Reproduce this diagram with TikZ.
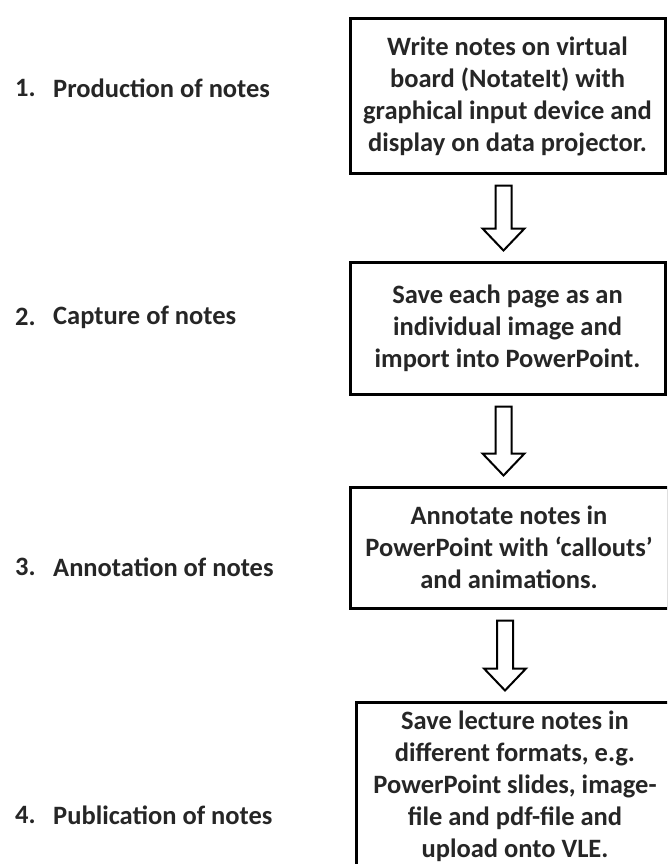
\documentclass[tikz,border=0pt]{standalone}
\usepackage{fontspec}
\setmainfont{Carlito}
\usetikzlibrary{calc}
\tikzset{
  stepbox/.style={draw=black, line width=3pt, fill=white, align=center, inner sep=0pt,
    font=\bfseries\fontsize{26.5}{32}\selectfont, text=black!85},
  lbl/.style={anchor=west, inner sep=0pt, font=\bfseries\fontsize{26.5}{32}\selectfont, text=black!85},
  blockarrow/.style={draw=black, line width=2pt, fill=white, line join=miter}
}
\newcommand\blockarr[2]{%
  \path[blockarrow] let \p1=($(#1.south)+(-4,11)$), \p2=($(#2.north)+(-4,-10)$) in
    (\x1-8pt,\y1) -- (\x1+8pt,\y1) -- (\x1+8pt,\y2+22pt) -- (\x1+21pt,\y2+22pt)
    -- (\x1,\y2) -- (\x1-21pt,\y2+22pt) -- (\x1-8pt,\y2+22pt) -- cycle;}
\begin{document}
\begin{tikzpicture}[x=1pt,y=-1pt]
\useasboundingbox (0,0) rectangle (667,864);
\clip (0,0) rectangle (667,864);
\fill[white] (0,0) rectangle (667,864);
\node[stepbox, minimum width=315pt, minimum height=154pt] (b1) at (507.5,96)
  {Write notes on virtual\\board (NotateIt) with\\graphical input device and\\display on data projector.};
\node[stepbox, minimum width=315pt, minimum height=132pt] (b2) at (507.5,328)
  {Save each page as an\\individual image and\\import into PowerPoint.};
\node[stepbox, minimum width=318pt, minimum height=121pt] (b3) at (509,547.5)
  {Annotate notes in\\PowerPoint with ‘callouts’\\and animations.};
\node[stepbox, minimum width=318pt, minimum height=168pt] (b4) at (515,786)
  {Save lecture notes in\\different formats, e.g.\\PowerPoint slides, image-\\file and pdf-file and\\upload onto VLE.};
\blockarr{b1}{b2}
\blockarr{b2}{b3}
\blockarr{b3}{b4}
\node[lbl] (n1) at (15,88) {1.};
\node[lbl] (t1) at (53,88) {Production of notes};
\node[lbl] (n2) at (15,317) {2.};
\node[lbl] (t2) at (53,317) {Capture of notes};
\node[lbl] (n3) at (15,567) {3.};
\node[lbl] (t3) at (53,567) {Annotation of notes};
\node[lbl] (n4) at (15,815) {4.};
\node[lbl] (t4) at (53,815) {Publication of notes};
\end{tikzpicture}
\end{document}
